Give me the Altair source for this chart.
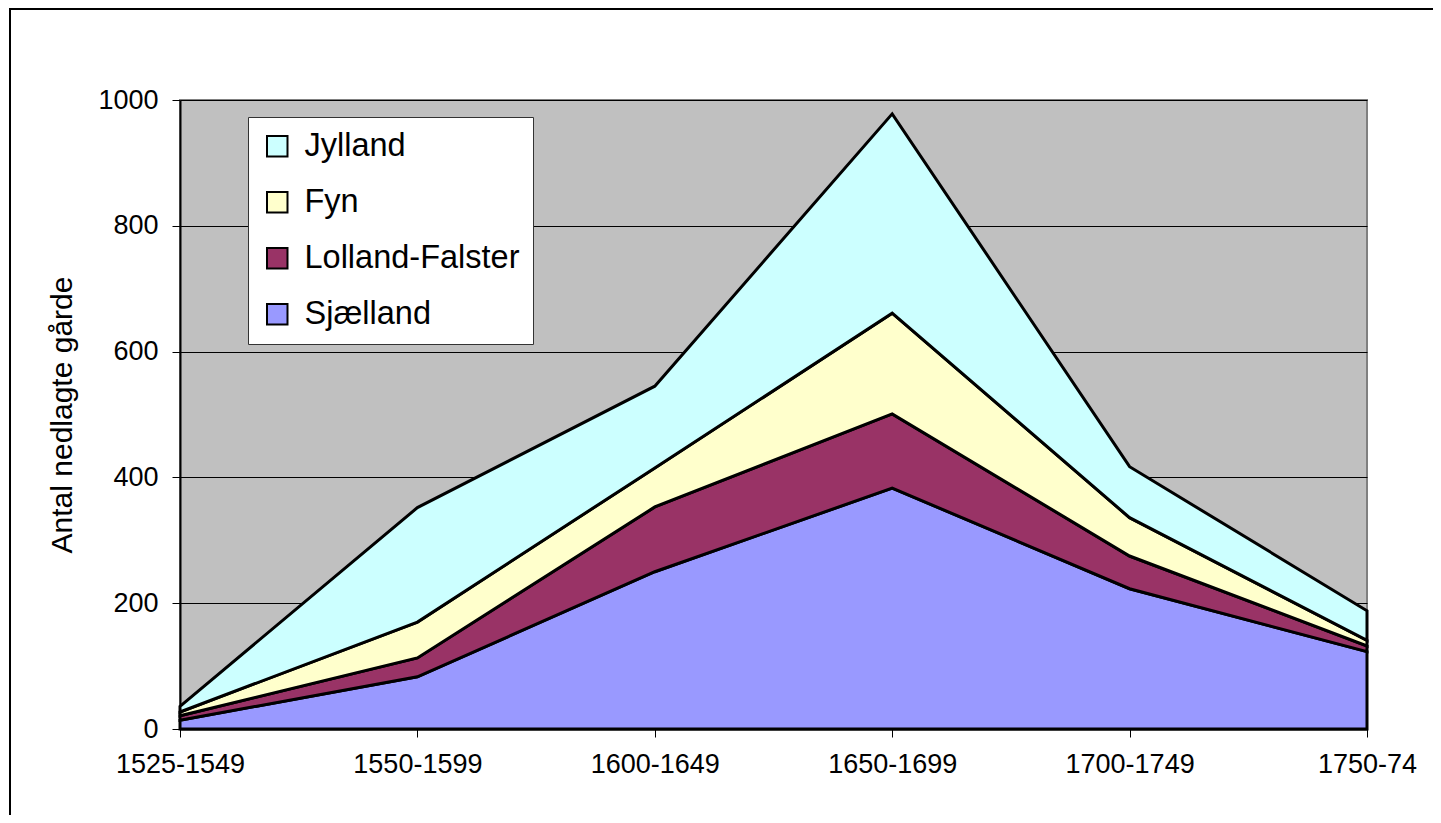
import altair as alt
import pandas as pd

periods = ["1525-1549", "1550-1599", "1600-1649", "1650-1699", "1700-1749", "1750-74"]
regions = ["Jylland", "Fyn", "Lolland-Falster", "Sjælland"]
colors = ["#CCFFFF", "#FFFFCC", "#993366", "#9999FF"]
sjaelland = [14, 83, 250, 383, 223, 123]
lolland_falster = [7, 30, 103, 118, 52, 9]
fyn = [6, 57, 62, 160, 61, 9]
jylland = [9, 182, 130, 317, 81, 47]

series = {"Sjælland": sjaelland, "Lolland-Falster": lolland_falster, "Fyn": fyn, "Jylland": jylland}
stack_order = {"Sjælland": 0, "Lolland-Falster": 1, "Fyn": 2, "Jylland": 3}

rows = []
for name, vals in series.items():
    for p, v in zip(periods, vals):
        rows.append({"periode": p, "region": name, "gaarde": v, "ord": stack_order[name]})
df = pd.DataFrame(rows)

FONT = "Liberation Sans"

area = alt.Chart(df).mark_area(stroke="black", strokeWidth=3, strokeJoin="miter").encode(
    x=alt.X("periode:N", sort=periods, scale=alt.Scale(type="point", padding=0),
            axis=alt.Axis(title=None, labelAngle=0, tickSize=8, labelPadding=14,
                          domainColor="black", domainWidth=2, tickColor="black",
                          labelFontSize=27, labelColor="black", labelFont=FONT, grid=False)),
    y=alt.Y("gaarde:Q", stack="zero", scale=alt.Scale(domain=[0, 1000], nice=False),
            axis=alt.Axis(title="Antal nedlagte gårde", values=[0, 200, 400, 600, 800, 1000],
                          format="d",
                          tickSize=8, labelPadding=14, domainColor="black", domainWidth=2,
                          tickColor="black", labelFontSize=27, labelColor="black", labelFont=FONT,
                          titleFontSize=30, titleFont=FONT, titleFontWeight="normal",
                          titleColor="black", titlePadding=20,
                          grid=True, gridColor="black", gridWidth=1)),
    color=alt.Color("region:N", scale=alt.Scale(domain=regions, range=colors),
                    legend=alt.Legend(title=None, orient="none", legendX=68, legendY=17,
                                      symbolType="square", symbolSize=420,
                                      symbolStrokeColor="black", symbolStrokeWidth=2,
                                      labelFontSize=32.5, labelFont=FONT, labelColor="black",
                                      labelOffset=11, rowPadding=23, padding=13,
                                      fillColor="white", strokeColor="#333333",
                                      labelLimit=400)),
    order=alt.Order("ord:Q"),
)

border = alt.Chart(pd.DataFrame({"a": [0]})).mark_rect(
    fill=None, stroke="black", strokeWidth=2
).encode(
    x=alt.value(-170), x2=alt.value(1400), y=alt.value(-91), y2=alt.value(900)
)

chart = alt.layer(area, border).properties(
    width=1187, height=629,
    autosize=alt.AutoSizeParams(type="none"),
    padding={"left": 172, "top": 92, "right": 66, "bottom": 86},
    background="white",
).configure_view(
    fill="#C0C0C0", stroke="#808080", strokeWidth=2
)

chart.save("out.html", embed_options={"renderer": "svg", "actions": False})
